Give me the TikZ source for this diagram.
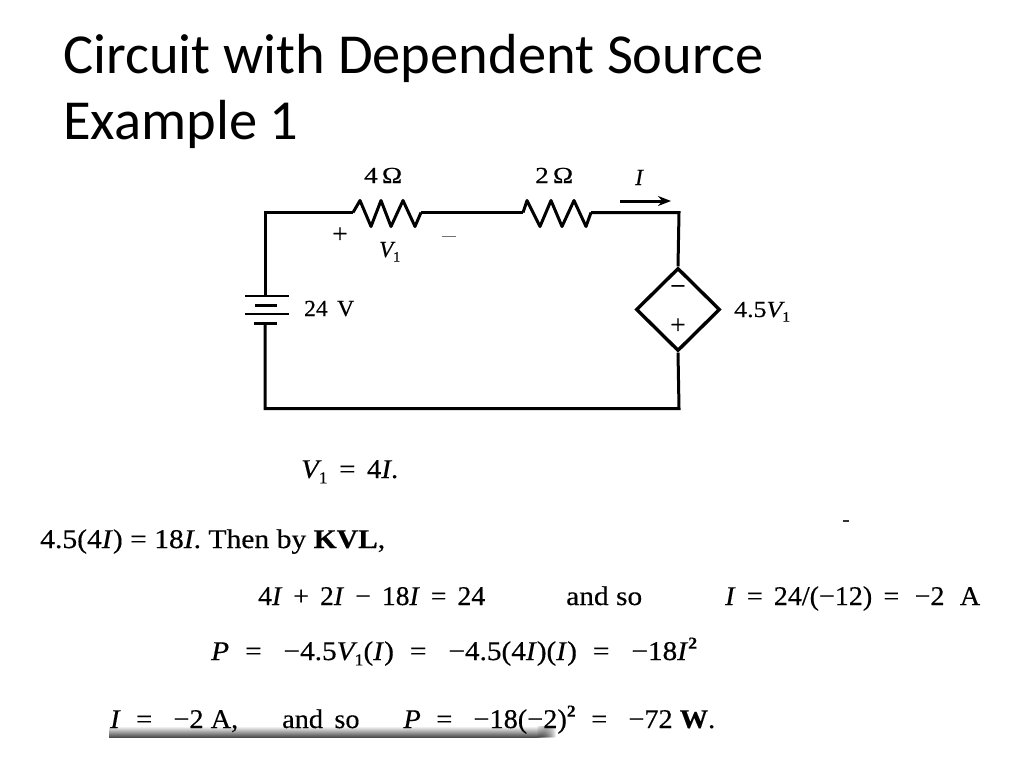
\documentclass[tikz,border=0pt]{standalone}
\usepackage{fontspec}
\usepackage{graphicx}
\setmainfont[FakeBold=0.4]{Liberation Serif}
\newfontfamily\titlefont{Carlito}
\usetikzlibrary{shapes.geometric,arrows.meta,fadings}
\newcommand{\ii}[1]{\textit{#1}}
\newcommand{\sbx}[1]{\kern-0.1em\raisebox{-0.2em}{\scalebox{0.62}{#1}}}
\newcommand{\spx}[1]{\raisebox{0.42em}{\scalebox{0.62}{\textbf{#1}}}}
\newcommand{\fitw}[2]{\resizebox{#1pt}{\height}{#2}}
\newcommand{\gs}{\hspace{0.15em}}
\newcommand{\gp}{\hspace{0.3em}}
\newcommand{\gq}{\hspace{0.5em}}
\tikzset{
  wire/.style={line width=3pt,line join=miter},
  resistor/.style={line width=3pt,line join=round},
  titletext/.style={anchor=base west,inner sep=0pt,font=\titlefont\fontsize{56.5}{60}\selectfont,text=black},
  eqtext/.style={anchor=base west,inner sep=0pt,font=\fontsize{27}{28}\selectfont,text=black},
  labeltext/.style={anchor=base west,inner sep=0pt,font=\fontsize{23}{24}\selectfont,text=black},
  signtext/.style={anchor=center,inner sep=0pt,font=\fontsize{27}{27}\selectfont,text=black},
  depsource/.style={diamond,draw,line width=3.4pt,minimum width=84pt,minimum height=83pt,inner sep=0pt,aspect=1},
  plate/.style={line width=2.4pt},
  shadowbar/.style={top color=white,bottom color=black!70},
}
\tikzfading[name=fadeend,left color=transparent!0,right color=transparent!100]
\begin{document}
\begin{tikzpicture}[x=1pt,y=-1pt]
\useasboundingbox (0,0) rectangle (1024,768);
% title
\node[titletext] (t1) at (63,73) {Circuit with Dependent Source};
\node[titletext] (t2) at (63,139) {Example 1};
% corners and terminals
\coordinate (tl) at (265,212.5);
\coordinate (tr) at (679,212.5);
\coordinate (bl) at (265,408.5);
\coordinate (br) at (679,408.5);
\coordinate (r1a) at (353,212.5);
\coordinate (r1b) at (421,212.5);
\coordinate (r2a) at (523,212.5);
\coordinate (r2b) at (591,212.5);
\coordinate (p1l) at (245,296); \coordinate (p1r) at (289,296);
\coordinate (p2l) at (255,305); \coordinate (p2r) at (277,305);
\coordinate (p3l) at (245,314); \coordinate (p3r) at (289,314);
\coordinate (p4l) at (254,323); \coordinate (p4r) at (277,323);
\coordinate (btop) at (265,296);
\coordinate (bbot) at (265,323);
\coordinate (arra) at (620,201);
\coordinate (arrb) at (671,201);
\node[depsource] (src) at (678,309.5) {};
% wires
\draw[wire] (btop) -- (tl) -- (r1a);
\draw[wire] (r1b) -- (r2a);
\draw[wire] (r2b) -- (tr) -- (src.north);
\draw[wire] (src.south) -- (br) -- (bl) -- (bbot);
% resistors
\draw[resistor] (r1a) -- ++(7,-12) -- ++(11,26) -- ++(10,-26) -- ++(10,26) -- ++(12,-26) -- ++(12,26) -- (r1b);
\draw[resistor] (r2a) -- ++(4,-12) -- ++(13,26) -- ++(11,-26) -- ++(11,26) -- ++(12,-26) -- ++(12,26) -- (r2b);
% battery
\draw[plate] (p1l) -- (p1r);
\draw[plate,line width=3pt] (p2l) -- (p2r);
\draw[plate] (p3l) -- (p3r);
\draw[plate,line width=3pt] (p4l) -- (p4r);
% current arrow
\draw[line width=3pt,-{Stealth[length=13pt,width=10pt]}] (arra) -- (arrb);
% source signs
\node[signtext] (sm) at (678,290) {−};
\node[signtext] (sp) at (678,326) {+};
% stray marks
\coordinate (m1a) at (442,236); \coordinate (m1b) at (456,236);
\coordinate (m2a) at (843,521); \coordinate (m2b) at (849,521);
\draw[line width=1pt,black!55] (m1a) -- (m1b);
\draw[line width=1.2pt,black!80] (m2a) -- (m2b);
% circuit labels
\node[labeltext] (l4) at (364,183) {\fitw{38}{4\gs Ω}};
\node[labeltext] (l2) at (535,183) {\fitw{38}{2\gs Ω}};
\node[labeltext] (li) at (635,185) {\ii{I}};
\node[signtext] (lp) at (340,235) {+};
\node[labeltext] (lv) at (379,257) {\ii{V}\sbx{1}};
\node[labeltext] (l24) at (304,316) {\fitw{50}{24\gs\ V}};
\node[labeltext] (l45) at (734,317) {\fitw{56}{4.5\ii{V}\sbx{1}}};
% equations
\node[eqtext] (e1) at (301,478) {\fitw{97}{\ii{V}\sbx{1}\gs\ =\gs\ 4\ii{I}.}};
\node[eqtext] (e2) at (40,548) {\fitw{345}{4.5(4\ii{I}) = 18\ii{I}. Then by \textbf{KVL},}};
\node[eqtext] (e3) at (258,605) {\fitw{227}{4\ii{I}\gs\ +\gs\ 2\ii{I}\gs\ −\gs\ 18\ii{I}\gs\ =\gs\ 24}};
\node[eqtext] (e4) at (566,605) {\fitw{76}{and so}};
\node[eqtext] (e5) at (725,605) {\fitw{255}{\ii{I}\gs\ =\gs\ 24/(−12)\gs\ =\gp\ −2\gp\ A}};
\node[eqtext] (e6) at (211,660) {\fitw{486}{\ii{P}\gp\ =\gq\ −4.5\ii{V}\sbx{1}(\ii{I})\gp\ =\gq\ −4.5(4\ii{I})(\ii{I})\gp\ =\gq\ −18\ii{I}\spx{2}}};
% shadow under last line
\coordinate (sa) at (109,726); \coordinate (sb) at (536,737);
\coordinate (sc) at (536,726); \coordinate (sd) at (556,737);
\fill[shadowbar] (sa) rectangle (sb);
\fill[path fading=fadeend,shadowbar] (sc) rectangle (sd);
\node[eqtext] (e7) at (110,728) {\fitw{605}{\ii{I}\gp\ =\gq\ −2 A,\hspace{1.3em} and\gs\ so\hspace{1.3em} \ii{P}\gp\ =\gq\ −18(−2)\spx{2}\gp\ =\gq\ −72 \textbf{W}.}};
\end{tikzpicture}
\end{document}
